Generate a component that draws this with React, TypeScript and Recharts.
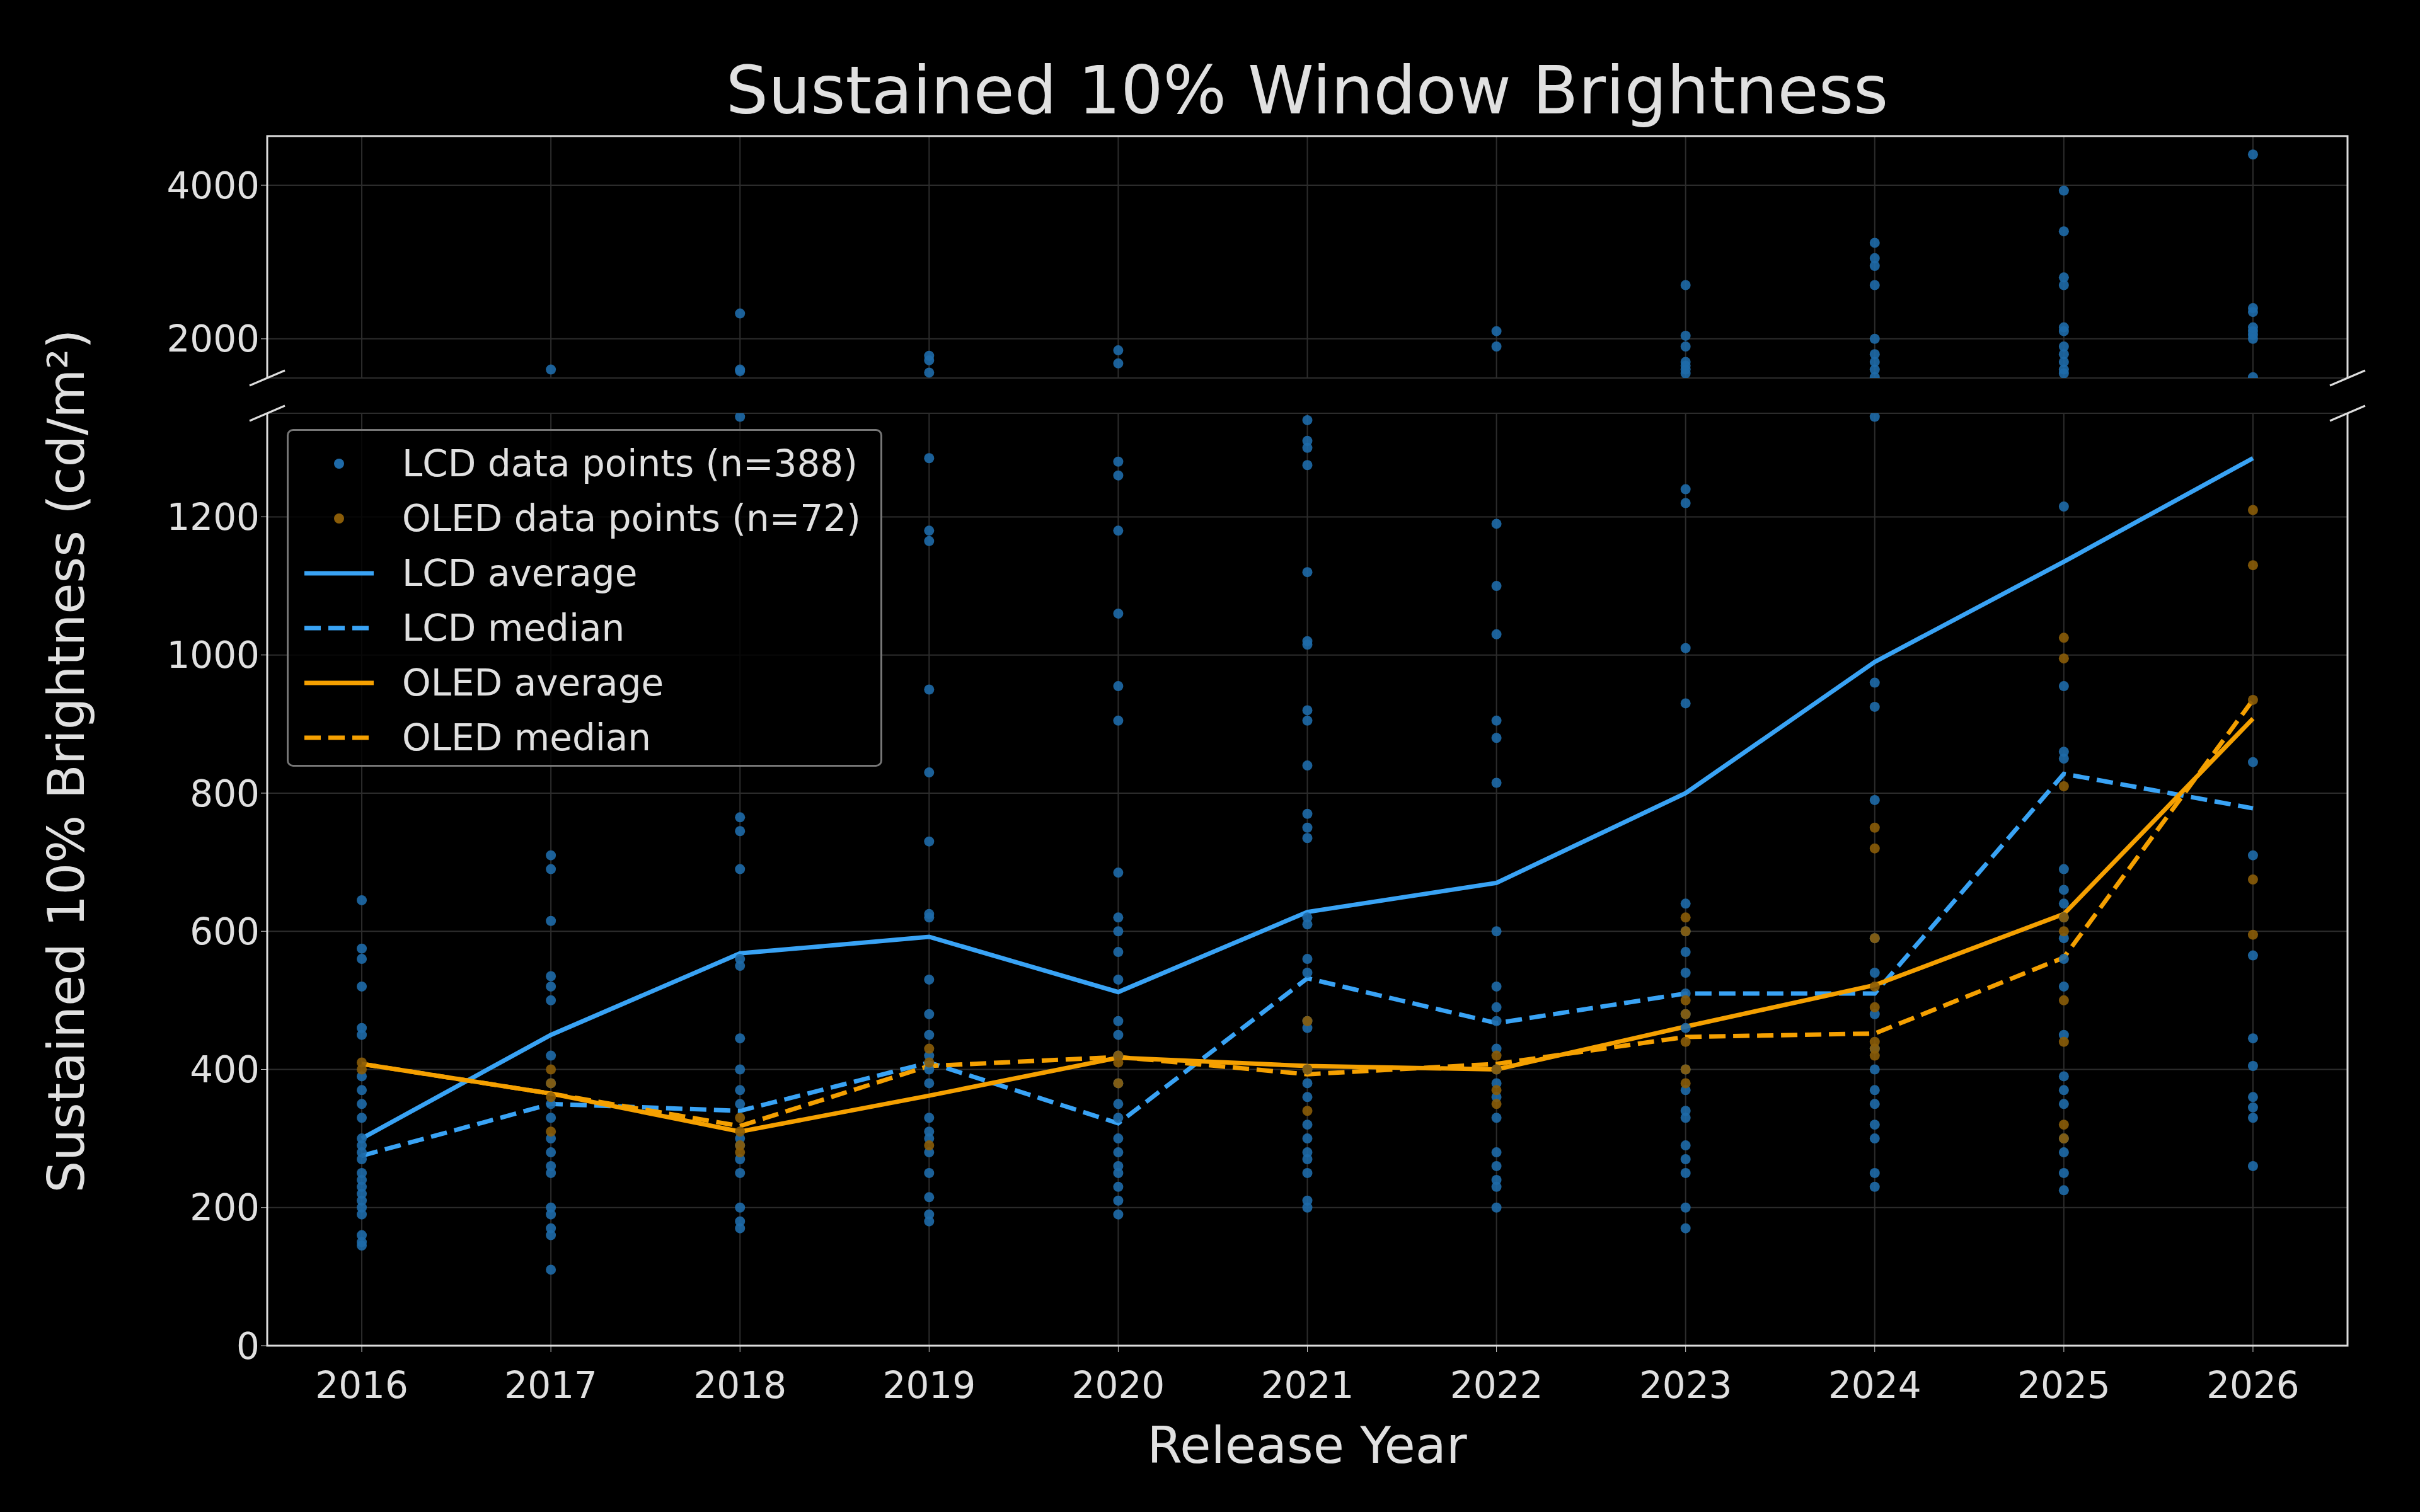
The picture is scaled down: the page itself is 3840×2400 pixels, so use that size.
import { ComposedChart, Line, Scatter, XAxis, YAxis, CartesianGrid } from "recharts";

const years = [2016, 2017, 2018, 2019, 2020, 2021, 2022, 2023, 2024, 2025, 2026];
const lcdAvg = [300, 450, 568, 592, 512, 628, 670, 800, 990, 1135, 1285];
const lcdMedian = [275, 350, 340, 410, 322, 532, 467, 510, 510, 828, 778];
const oledAvg = [408, 365, 310, 362, 417, 405, 400, 462, 522, 625, 908];
const oledMedian = [408, 365, 318, 405, 418, 393, 408, 447, 452, 562, 935];

const lcdPoints: number[][] = [
  [645, 575, 560, 520, 460, 450, 390, 370, 350, 330, 300, 290, 280, 270, 250, 240, 230, 220, 210, 200, 190, 160, 150, 145],
  [1600, 710, 690, 615, 535, 520, 500, 420, 380, 350, 330, 300, 280, 260, 250, 200, 190, 170, 160, 110],
  [2330, 1600, 1580, 1345, 765, 745, 690, 560, 550, 445, 400, 370, 350, 300, 290, 270, 250, 200, 180, 170],
  [1780, 1720, 1560, 1285, 1180, 1165, 950, 830, 730, 625, 620, 530, 480, 450, 420, 400, 380, 330, 310, 300, 280, 250, 215, 190, 180],
  [1850, 1680, 1280, 1260, 1180, 1060, 955, 905, 685, 620, 600, 570, 530, 470, 450, 420, 380, 350, 330, 300, 280, 260, 250, 230, 210, 190],
  [1480, 1340, 1310, 1300, 1275, 1120, 1020, 1015, 920, 905, 840, 770, 750, 735, 620, 610, 560, 540, 470, 460, 400, 380, 360, 320, 300, 280, 270, 250, 210, 200],
  [2100, 1900, 1190, 1100, 1030, 905, 880, 815, 600, 520, 490, 470, 430, 400, 380, 360, 330, 280, 260, 240, 230, 200],
  [2700, 2040, 1900, 1700, 1650, 1600, 1550, 1240, 1220, 1010, 930, 640, 600, 570, 540, 510, 480, 460, 400, 370, 340, 330, 290, 270, 250, 200, 170],
  [3250, 3050, 2950, 2700, 2000, 1800, 1700, 1600, 1500, 1345, 960, 925, 790, 590, 540, 480, 430, 400, 370, 350, 320, 300, 250, 230],
  [3930, 3400, 2800, 2700, 2150, 2100, 1900, 1800, 1700, 1600, 1550, 1215, 955, 860, 850, 690, 660, 640, 620, 590, 560, 520, 450, 390, 370, 350, 300, 280, 250, 225],
  [4400, 2400, 2350, 2150, 2100, 2050, 2000, 1500, 845, 710, 565, 445, 405, 360, 345, 330, 260],
];
const oledPoints: number[][] = [
  [410, 400],
  [400, 380, 360, 310],
  [330, 310, 290, 280],
  [430, 410, 290],
  [420, 410, 380],
  [470, 400, 340],
  [420, 400, 370, 350],
  [620, 600, 500, 480, 440, 400, 380],
  [750, 720, 590, 520, 490, 440, 430, 420],
  [1025, 995, 810, 620, 600, 500, 440, 320, 300],
  [1210, 1130, 935, 675, 595],
];

const BLUE = "#39a3f5";
const ORANGE = "#f5a000";
const DOT_BLUE = "#1e6aa8";
const DOT_ORANGE = "#8a5c08";
const FONT = "DejaVu Sans, sans-serif";
const TXT = "#e0e0e0";

const lineData = years.map((x, i) => ({
  x,
  lcdAvg: lcdAvg[i],
  lcdMedian: lcdMedian[i],
  oledAvg: oledAvg[i],
  oledMedian: oledMedian[i],
}));

const flatten = (arr: number[][]) =>
  arr.flatMap((vals, i) => vals.map((y) => ({ x: years[i], y })));
const lcdAll = flatten(lcdPoints);
const oledAll = flatten(oledPoints);

const dot = (color: string) => (p: any) => (
  <circle cx={p.cx} cy={p.cy} r={8} fill={color} fillOpacity={0.9} />
);

const L = 424, R = 3725, T1 = 216, B1 = 600, T2 = 656, B2 = 2136;
const tick = { fill: TXT, fontSize: 58, fontFamily: FONT };
const YW = 170;

export default function App() {
  const legendRows = [
    { label: "LCD data points (n=388)", kind: "dot", color: DOT_BLUE },
    { label: "OLED data points (n=72)", kind: "dot", color: DOT_ORANGE },
    { label: "LCD average", kind: "solid", color: BLUE },
    { label: "LCD median", kind: "dash", color: BLUE },
    { label: "OLED average", kind: "solid", color: ORANGE },
    { label: "OLED median", kind: "dash", color: ORANGE },
  ];
  return (
    <div style={{ position: "fixed", left: 0, top: 0, width: 3840, height: 2400, background: "#000", fontFamily: FONT }}>
      <div style={{ position: "absolute", left: 0, top: 0 }}>
        <ComposedChart width={3840} height={2400} data={lineData}
          margin={{ top: T1, left: L - YW, right: 3840 - R, bottom: 2400 - B1 }}>
          <CartesianGrid stroke="#2c2c2c" strokeWidth={2} />
          <XAxis dataKey="x" type="number" domain={[2015.5, 2026.5]} ticks={years} hide />
          <YAxis type="number" domain={[1490, 4640]} ticks={[2000, 4000]} width={YW}
            tick={tick} stroke="#ccc" tickSize={10} axisLine={false} allowDataOverflow />
          <Scatter data={lcdAll.filter((p) => p.y >= 1490)} dataKey="y" shape={dot(DOT_BLUE)} isAnimationActive={false} />
        </ComposedChart>
      </div>
      <div style={{ position: "absolute", left: 0, top: 0 }}>
        <ComposedChart width={3840} height={2400} data={lineData}
          margin={{ top: T2, left: L - YW, right: 3840 - R, bottom: 2400 - B2 - 120 }}>
          <CartesianGrid stroke="#2c2c2c" strokeWidth={2} />
          <XAxis dataKey="x" type="number" domain={[2015.5, 2026.5]} ticks={years} height={120}
            tick={{ ...tick, dy: 30 }} stroke="#ccc" tickSize={10} axisLine={false} />
          <YAxis type="number" domain={[0, 1350]} ticks={[0, 200, 400, 600, 800, 1000, 1200]} width={YW}
            tick={tick} stroke="#ccc" tickSize={10} axisLine={false} allowDataOverflow />
          <Scatter data={lcdAll.filter((p) => p.y <= 1350)} dataKey="y" shape={dot(DOT_BLUE)} isAnimationActive={false} />
          <Scatter data={oledAll.filter((p) => p.y <= 1350)} dataKey="y" shape={dot(DOT_ORANGE)} isAnimationActive={false} />
          <Line dataKey="lcdAvg" stroke={BLUE} strokeWidth={7} dot={false} isAnimationActive={false} />
          <Line dataKey="lcdMedian" stroke={BLUE} strokeWidth={7} strokeDasharray="26 12" dot={false} isAnimationActive={false} />
          <Line dataKey="oledAvg" stroke={ORANGE} strokeWidth={7} dot={false} isAnimationActive={false} />
          <Line dataKey="oledMedian" stroke={ORANGE} strokeWidth={7} strokeDasharray="26 12" dot={false} isAnimationActive={false} />
        </ComposedChart>
      </div>
      <svg width={3840} height={2400} style={{ position: "absolute", left: 0, top: 0, pointerEvents: "none" }}>
        <g stroke="#ddd" strokeWidth={3} fill="none">
          <polyline points={`${L},${B1} ${L},${T1} ${R},${T1} ${R},${B1}`} />
          <polyline points={`${L},${T2} ${L},${B2} ${R},${B2} ${R},${T2}`} />
          {[L, R].map((x) => (
            <g key={x}>
              <line x1={x - 28} y1={B1 + 12} x2={x + 28} y2={B1 - 12} />
              <line x1={x - 28} y1={T2 + 12} x2={x + 28} y2={T2 - 12} />
            </g>
          ))}
        </g>
      </svg>
      <div style={{ position: "absolute", top: 82, left: 0, width: 4148, textAlign: "center", color: TXT, fontSize: 106 }}>
        Sustained 10% Window Brightness
      </div>
      <div style={{ position: "absolute", top: 2248, left: 0, width: 4148, textAlign: "center", color: TXT, fontSize: 80 }}>
        Release Year
      </div>
      <div style={{ position: "absolute", left: 105, top: 1208, color: TXT, fontSize: 80, whiteSpace: "nowrap",
        transform: "translate(-50%, -50%) rotate(-90deg)" }}>
        Sustained 10% Brightness (cd/m²)
      </div>
      <div style={{ position: "absolute", left: 455, top: 681, width: 945, height: 536, border: "3px solid #777",
        borderRadius: 10, background: "rgba(0,0,0,0.8)", boxSizing: "border-box", padding: "8px 0 0 0" }}>
        {legendRows.map((r) => (
          <div key={r.label} style={{ display: "flex", alignItems: "center", height: 87, color: TXT, fontSize: 58 }}>
            <svg width={140} height={40} style={{ marginLeft: 10 }}>
              {r.kind === "dot" ? (
                <circle cx={70} cy={20} r={8} fill={r.color} />
              ) : (
                <line x1={15} y1={20} x2={125} y2={20} stroke={r.color} strokeWidth={7}
                  strokeDasharray={r.kind === "dash" ? "26 12" : undefined} />
              )}
            </svg>
            <span style={{ marginLeft: 30 }}>{r.label}</span>
          </div>
        ))}
      </div>
    </div>
  );
}
